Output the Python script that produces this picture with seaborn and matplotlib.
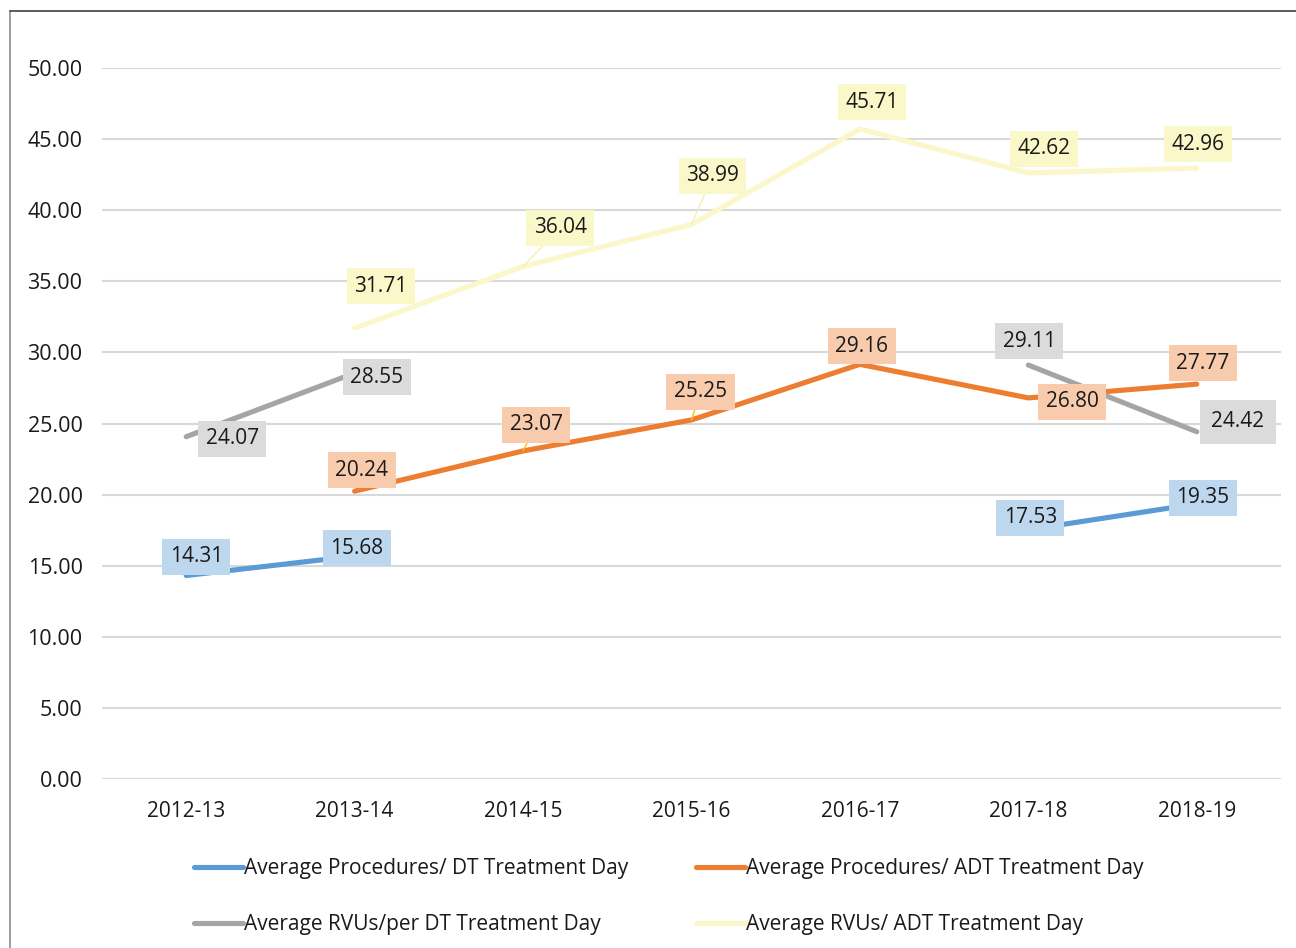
"""
Average procedures / RVUs per treatment day, 2012-13 to 2018-19.
"""

import numpy as np
import pandas as pd
import matplotlib
matplotlib.use('Agg')
import matplotlib.pyplot as plt
from matplotlib.lines import Line2D
import seaborn as sns

# ---- data -------------------------------------------------------------
years = ['2012-13', '2013-14', '2014-15', '2015-16', '2016-17', '2017-18', '2018-19']
proc_dt = [14.31, 15.68, np.nan, np.nan, np.nan, 17.53, 19.35]
proc_adt = [np.nan, 20.24, 23.07, 25.25, 29.16, 26.80, 27.77]
rvu_dt = [24.07, 28.55, np.nan, np.nan, np.nan, 29.11, 24.42]
rvu_adt = [np.nan, 31.71, 36.04, 38.99, 45.71, 42.62, 42.96]

series_names = [
    'Average Procedures/ DT Treatment Day',
    'Average Procedures/ ADT Treatment Day',
    'Average RVUs/per DT Treatment Day',
    'Average RVUs/ ADT Treatment Day',
]
y_ticks = [0, 5, 10, 15, 20, 25, 30, 35, 40, 45, 50]

# ---- styling ------------------------------------------------------------
line_colors = ['#5B9BD5', '#ED7D31', '#A5A5A5', '#FBF7CB']
box_colors = ['#BDD7EE', '#F8CBAD', '#DBDBDB', '#FAF7C8']
leader_colors = ['#5B9BD5', '#FFC000', '#A5A5A5', '#F6F0B4']

# label offsets from each point, in pixels (dx, dy up)
label_offsets = [
    [(10, 19), (2, 8), None, None, None, (2, 12), (6, 6)],
    [None, (7, 21), (13, 26), (9, 28), (2, 18), (44, -4), (6, 21)],
    [(46, -2), (22, -4), None, None, None, (1, 24), (41, 10)],
    [None, (26, 42), (37, 39), (21, 49), (12, 27), (16, 24), (1, 24)],
]
leaders = {(1, 2), (1, 3), (3, 2), (3, 3)}

sns.set_theme(style='white')
plt.rcParams['font.family'] = ['Open Sans', 'DejaVu Sans']
FS = 15

fig = plt.figure(figsize=(12.96, 9.48), dpi=100)
ax = fig.add_axes([102 / 1296, 1 - 779 / 948, 1179 / 1296, 711 / 948])

values = [proc_dt, proc_adt, rvu_dt, rvu_adt]
x_idx = np.arange(len(years))

for k, vals in enumerate(values):
    df = pd.DataFrame({'x': x_idx, 'y': vals})
    # break the line wherever a year is missing
    seg = df['y'].isna().cumsum()
    for _, part in df.dropna().groupby(seg[df['y'].notna()]):
        if len(part) < 2:
            continue
        sns.lineplot(data=part, x='x', y='y', ax=ax, color=line_colors[k],
                     linewidth=3.7, solid_capstyle='round', zorder=2 + k,
                     legend=False)

for k, vals in enumerate(values):
    for i, v in enumerate(vals):
        if np.isnan(v):
            continue
        dx, dy = label_offsets[k][i]
        arrow = None
        if (k, i) in leaders:
            arrow = dict(arrowstyle='-', color=leader_colors[k], lw=1.0,
                         shrinkA=0, shrinkB=0)
        pad = 0.55 if (k == 2 and i == 6) else 0.36
        ax.annotate(f'{v:.2f}', xy=(i, v), xytext=(dx, dy),
                    textcoords='offset pixels', ha='center', va='center',
                    fontsize=FS, color='#1a1a1a', zorder=10,
                    bbox=dict(boxstyle=f'square,pad={pad}', fc=box_colors[k],
                              ec='none'),
                    arrowprops=arrow)

ax.set_xlim(-0.5, len(years) - 0.5)
ax.set_ylim(0, 50)
ax.set_xticks(x_idx)
ax.set_xticklabels(years)
ax.set_yticks(y_ticks)
ax.set_yticklabels([f'{t:.2f}' for t in y_ticks])
ax.set_xlabel('')
ax.set_ylabel('')
ax.tick_params(axis='both', length=0, labelsize=FS, colors='#1a1a1a')
ax.tick_params(axis='y', labelsize=15.5, pad=14)
ax.tick_params(axis='x', pad=16)
ax.yaxis.grid(True, color='#D9D9D9', linewidth=1.5, zorder=0)
ax.set_axisbelow(True)
for s in ax.spines.values():
    s.set_visible(False)

# legend: column-wise fill, so order blue, gray, orange, yellow
order = [0, 2, 1, 3]
handles = [Line2D([0], [0], color=line_colors[k], lw=3.7, solid_capstyle='round')
           for k in order]
fig.legend(handles, [series_names[k] for k in order], ncol=2,
           loc='upper left', bbox_to_anchor=(194 / 1296, 1 - 858 / 948),
           frameon=False, fontsize=FS, borderpad=0, borderaxespad=0,
           handlelength=2.35, handletextpad=0.05, columnspacing=3.25,
           labelspacing=1.7, labelcolor='#1a1a1a')

# outer chart frame
fig.add_artist(Line2D([10 / 1296, 10 / 1296], [0, 1 - 11 / 948],
                      transform=fig.transFigure, color='#8c8c8c', lw=1.2))
fig.add_artist(Line2D([10 / 1296, 1], [1 - 11 / 948, 1 - 11 / 948],
                      transform=fig.transFigure, color='#404040', lw=1.2))

fig.savefig('out.png', dpi=100, facecolor='white')
